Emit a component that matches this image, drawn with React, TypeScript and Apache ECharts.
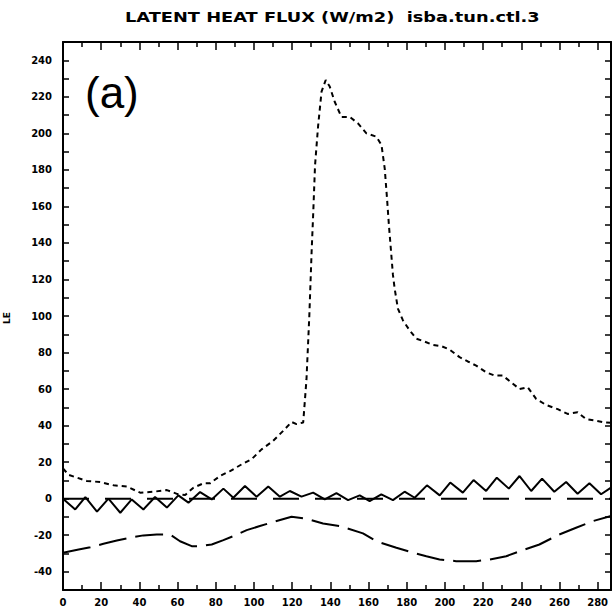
import React, { useEffect, useRef } from "react";
import * as echarts from "echarts";

// ---- data ----
const titleText = "LATENT HEAT FLUX (W/m2)  isba.tun.ctl.3";
const panelLabel = "(a)";
const yName = "LE";

const xTickLabels = [0, 20, 40, 60, 80, 100, 120, 140, 160, 180, 200, 220, 240, 260, 280];
const yTickLabels = [-40, -20, 0, 20, 40, 60, 80, 100, 120, 140, 160, 180, 200, 220, 240];

// short-dashed series (large peak)
const shortX = [0, 3, 7.3, 12.5, 19.5, 26.5, 33.5, 40.4, 47.4, 54.4, 60, 64, 68.3, 73.5, 77, 82.2, 87.5, 93.6, 98.8, 104, 110, 115.3, 119.7, 122.3, 125.8, 127.5, 129, 130.2, 131, 132, 133.6, 135.4, 137.6, 139.7, 142.3, 145.8, 150.2, 154.5, 158.9, 164.1, 166.8, 168.5, 169.7, 170.7, 171.6, 172.8, 173.7, 175.4, 178, 181.5, 185, 189.4, 193.7, 198.1, 202.5, 207.7, 212, 216.4, 221.6, 226, 230.3, 234.7, 239.1, 243.4, 247.8, 253, 259.1, 264.3, 269.5, 273.9, 279.1, 283.5, 287];
const shortY = [16.5, 13, 11.5, 9.7, 9.1, 7.3, 6.6, 3.3, 3.8, 4.7, 2.5, 2, 6, 8.4, 8.4, 12.4, 15.1, 18.8, 21.6, 27, 31.6, 37.1, 42, 40.8, 41.7, 65, 100, 135, 155, 182.5, 204, 222.8, 229.2, 225.6, 217.3, 209, 209, 205.4, 200, 198.2, 193.6, 180.7, 164.3, 149.6, 138, 122.5, 115, 104, 97.7, 92.2, 87.6, 86, 84.2, 83.5, 81.6, 77.5, 75.1, 72.8, 69.2, 67.4, 67.4, 63.7, 60, 61, 54.6, 51.3, 49, 46.4, 47.3, 43.6, 42.7, 41.8, 41.5];

// solid zig-zag series
const zigX = [0, 6.4, 11.7, 17.8, 23.8, 30, 36, 42.1, 48.2, 54.4, 60.4, 65.7, 71.8, 77.9, 84, 89.2, 95.3, 101.4, 107.5, 113.6, 118.8, 124.9, 131, 137.1, 143.2, 149.3, 155.4, 160.6, 166.7, 172.8, 178.9, 184.2, 190.6, 197.3, 202.8, 209.4, 215, 221.6, 227.2, 233.5, 239.1, 245.2, 250.9, 257.3, 263.5, 269.5, 275.7, 281.8, 287];
const zigY = [0, -5.9, 0.9, -7.1, 0, -7.7, -0.4, -5.9, 0.9, -4.9, 1.8, -2.2, 3.6, -0.4, 5.5, 0.5, 6.9, 1.1, 6.6, 1.1, 4.2, 1.1, 3.3, -0.4, 3, -0.8, 1.8, -1.3, 2.4, -0.8, 3.8, 0.5, 7.3, 1.8, 8.8, 3.3, 10.2, 4.2, 11.5, 5.5, 12.4, 4.2, 11, 3.8, 9.1, 2.7, 8.4, 2.4, 6];

// long-dashed series near zero
const zeroX = [0, 287];
const zeroY = [0, 0];

// long-dashed lower series
const lowX = [0, 8.2, 14.3, 21.2, 28.2, 35.2, 42.1, 49.1, 56.1, 61.3, 67.4, 71.8, 77.9, 84, 89.2, 96.2, 103.1, 110.1, 119.7, 127.5, 136.2, 145, 157.1, 164.1, 174.6, 183.3, 190.3, 197.2, 205.9, 216.4, 223.4, 232.1, 240.8, 249.5, 259.9, 268.7, 277.4, 287];
const lowY = [-29.6, -27.8, -26.6, -24.7, -22.9, -21.4, -20.1, -19.6, -19.6, -23.3, -26, -26, -25.1, -22.7, -20.5, -17.2, -15, -12.8, -9.9, -11, -13.6, -15, -19, -23.3, -26.9, -29.6, -31.5, -33.3, -34.2, -34.2, -33.3, -31.5, -28.2, -25.1, -19.6, -15.9, -12.3, -9.5];

const zip = (xs: number[], ys: number[]) => xs.map((x, i) => [x, ys[i]]);

export default function App() {
  const ref = useRef<HTMLDivElement>(null);
  useEffect(() => {
    if (!ref.current) return;
    const chart = echarts.init(ref.current, null, { renderer: "svg" });
    const black = "#000";
    const labelFont = { fontFamily: "DejaVu Sans", fontWeight: "bold" as const, fontSize: 10, color: black };
    const xBase = (pos: "bottom" | "top", showLabels: boolean) => ({
      type: "value" as const,
      position: pos,
      min: 0,
      max: 287,
      interval: 20,
      axisLine: { show: true, onZero: false, lineStyle: { color: black, width: 2 } },
      axisTick: { show: true, inside: true, length: 8, lineStyle: { color: black, width: 1.5 } },
      minorTick: { show: true, splitNumber: 2, length: 5, lineStyle: { color: black, width: 1.5 } },
      splitLine: { show: false },
      minorSplitLine: { show: false },
      axisLabel: {
        show: showLabels,
        ...labelFont,
        margin: 7,
        showMaxLabel: false,
        formatter: (v: number) => (xTickLabels.includes(v) ? String(v) : ""),
      },
    });
    const yBase = (pos: "left" | "right", showLabels: boolean) => ({
      type: "value" as const,
      position: pos,
      min: -50,
      max: 250,
      interval: 10,
      axisLine: { show: true, onZero: false, lineStyle: { color: black, width: 2 } },
      axisTick: { show: true, inside: true, length: 6, lineStyle: { color: black, width: 1.5 } },
      splitLine: { show: false },
      axisLabel: {
        show: showLabels,
        ...labelFont,
        margin: 11,
        interval: 0,
        formatter: (v: number) => (yTickLabels.includes(v) ? String(v) : ""),
      },
    });
    const lineSeries = (xs: number[], ys: number[], type: any, width: number) => ({
      type: "line" as const,
      data: zip(xs, ys),
      symbol: "none",
      xAxisIndex: 0,
      yAxisIndex: 0,
      lineStyle: { color: black, width, type },
      z: 3,
    });
    chart.setOption({
      animation: false,
      backgroundColor: "#fff",
      grid: { left: 63, right: 2, top: 42, bottom: 23, containLabel: false },
      xAxis: [xBase("bottom", true), xBase("top", false)],
      yAxis: [yBase("left", true), yBase("right", false)],
      series: [
        lineSeries(zeroX, zeroY, [26, 16], 2),
        lineSeries(lowX, lowY, [28, 9], 2),
        lineSeries(shortX, shortY, [5, 4], 2),
        lineSeries(zigX, zigY, "solid", 2),
      ],
      graphic: [
        {
          type: "text",
          x: 125,
          y: 17,
          scaleX: 1.27,
          style: {
            text: titleText,
            fontFamily: "DejaVu Sans",
            fontWeight: "bold",
            fontSize: 14,
            fill: black,
            align: "left",
            verticalAlign: "middle",
            textAlign: "left",
            textVerticalAlign: "middle",
          },
        },
        {
          type: "text",
          x: 85,
          y: 92,
          style: {
            text: panelLabel,
            fontFamily: "Liberation Sans",
            fontSize: 44,
            fill: black,
            align: "left",
            verticalAlign: "middle",
            textAlign: "left",
            textVerticalAlign: "middle",
          },
        },
        {
          type: "text",
          x: 7,
          y: 318,
          rotation: Math.PI / 2,
          style: {
            text: yName,
            fontFamily: "DejaVu Sans",
            fontWeight: "bold",
            fontSize: 9,
            fill: black,
            align: "center",
            verticalAlign: "middle",
            textAlign: "center",
            textVerticalAlign: "middle",
          },
        },
      ],
    });
    return () => chart.dispose();
  }, []);
  return (
    <div
      ref={ref}
      style={{ position: "fixed", left: 0, top: 0, width: 613, height: 613, background: "#fff" }}
    />
  );
}
